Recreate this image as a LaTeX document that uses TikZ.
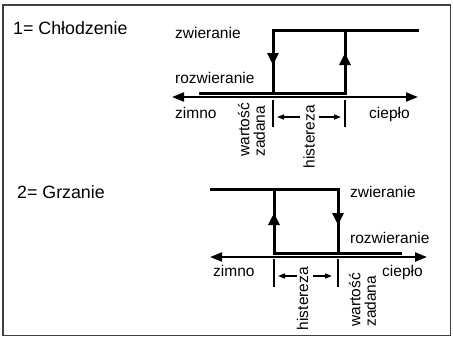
\documentclass[tikz,border=0pt]{standalone}
\usepackage{fontspec}
\setmainfont{Liberation Sans}
\usetikzlibrary{arrows.meta}
\begin{document}
\begin{tikzpicture}[x=1pt,y=-1pt,
  lbl/.style={inner sep=0pt,font=\fontsize{15.5}{15.5}\selectfont,anchor=base west},
  ttl/.style={inner sep=0pt,font=\fontsize{17.8}{17.8}\selectfont,anchor=base west},
  rot/.style={inner sep=0pt,font=\fontsize{15.5}{15.5}\selectfont,rotate=90,anchor=east,align=left},
  stepline/.style={line width=3pt,line join=miter},
  axisline/.style={line width=2pt,{Triangle[length=12pt,width=9pt]}-{Triangle[length=12pt,width=9pt]}},
  tickline/.style={line width=2pt},
  midarrow/.style={line width=3pt,-{Triangle[length=12pt,width=11pt]}},
  harrow/.style={line width=1.5pt,-{Triangle[length=7pt,width=5pt]}},
  frame/.style={draw=black!75,line width=1.3pt}]
\useasboundingbox (0,0) rectangle (453,338);
\draw[frame] (3,5) rectangle (450.5,335.5);

% ---------- 1 = Chlodzenie ----------
\node[ttl] (t1) at (13,34.5) {1= Chłodzenie};
\node[lbl] (z1) at (175,38.5) {zwieranie};
\node[lbl] (r1) at (175,83.5) {rozwieranie};
\node[lbl] (c1) at (175,118) {zimno};
\node[lbl] (w1) at (369,118) {ciepło};

\coordinate (A1l) at (172,97);
\coordinate (A1r) at (418,97);
\coordinate (T1e) at (419,30);
\coordinate (V1t) at (273,30);
\coordinate (V1b) at (273,93);
\coordinate (V2t) at (345,30);
\coordinate (V2b) at (345,93);
\coordinate (B1s) at (199,93);
\coordinate (M1) at (273,65);
\coordinate (M2) at (345,53);

\draw[axisline] (A1l) -- (A1r);
\draw[stepline] (T1e) -- (V1t) -- (V1b);
\draw[stepline] (B1s) -- (V2b) -- (V2t);
\draw[midarrow] (V1t) -- (M1);
\draw[midarrow] (V2b) -- (M2);

\coordinate (K1t) at (273,100);
\coordinate (K1b) at (273,127);
\coordinate (K2t) at (345,100);
\coordinate (K2b) at (345,127);
\draw[tickline] (K1t) -- (K1b);
\draw[tickline] (K2t) -- (K2b);

\node[rot] (s1) at (251.5,103) {wartość\\zadana};
\node[rot] (h1) at (309,105) {histereza};
\coordinate (H1a) at (300,117);
\coordinate (H1b) at (277,117);
\coordinate (H1c) at (319,117);
\coordinate (H1d) at (341,117);
\draw[harrow] (H1a) -- (H1b);
\draw[harrow] (H1c) -- (H1d);

% ---------- 2 = Grzanie ----------
\node[ttl] (t2) at (17,198) {2= Grzanie};
\node[lbl] (z2) at (350,197) {zwieranie};
\node[lbl] (r2) at (350,243.3) {rozwieranie};
\node[lbl] (c2) at (213,276) {zimno};
\node[lbl] (w2) at (382,276) {ciepło};

\coordinate (A2l) at (210,257);
\coordinate (A2r) at (427,257);
\coordinate (T2s) at (210,189);
\coordinate (U1t) at (274,189);
\coordinate (U1b) at (274,253);
\coordinate (U2t) at (338,189);
\coordinate (U2b) at (338,253);
\coordinate (B2e) at (402,253);
\coordinate (N1) at (274,213);
\coordinate (N2) at (338,225);

\draw[axisline] (A2l) -- (A2r);
\draw[stepline] (T2s) -- (U2t) -- (U2b);
\draw[stepline] (U1t) -- (U1b) -- (B2e);
\draw[midarrow] (U1b) -- (N1);
\draw[midarrow] (U2t) -- (N2);

\coordinate (L1t) at (274,259);
\coordinate (L1b) at (274,287);
\coordinate (L2t) at (338,259);
\coordinate (L2b) at (338,287);
\draw[tickline] (L1t) -- (L1b);
\draw[tickline] (L2t) -- (L2b);

\node[rot] (h2) at (302.5,267) {histereza};
\node[rot] (s2) at (362.5,273) {wartość\\zadana};
\coordinate (H2a) at (297,276);
\coordinate (H2b) at (278,276);
\coordinate (H2c) at (313,276);
\coordinate (H2d) at (332,276);
\draw[harrow] (H2a) -- (H2b);
\draw[harrow] (H2c) -- (H2d);
\end{tikzpicture}
\end{document}
